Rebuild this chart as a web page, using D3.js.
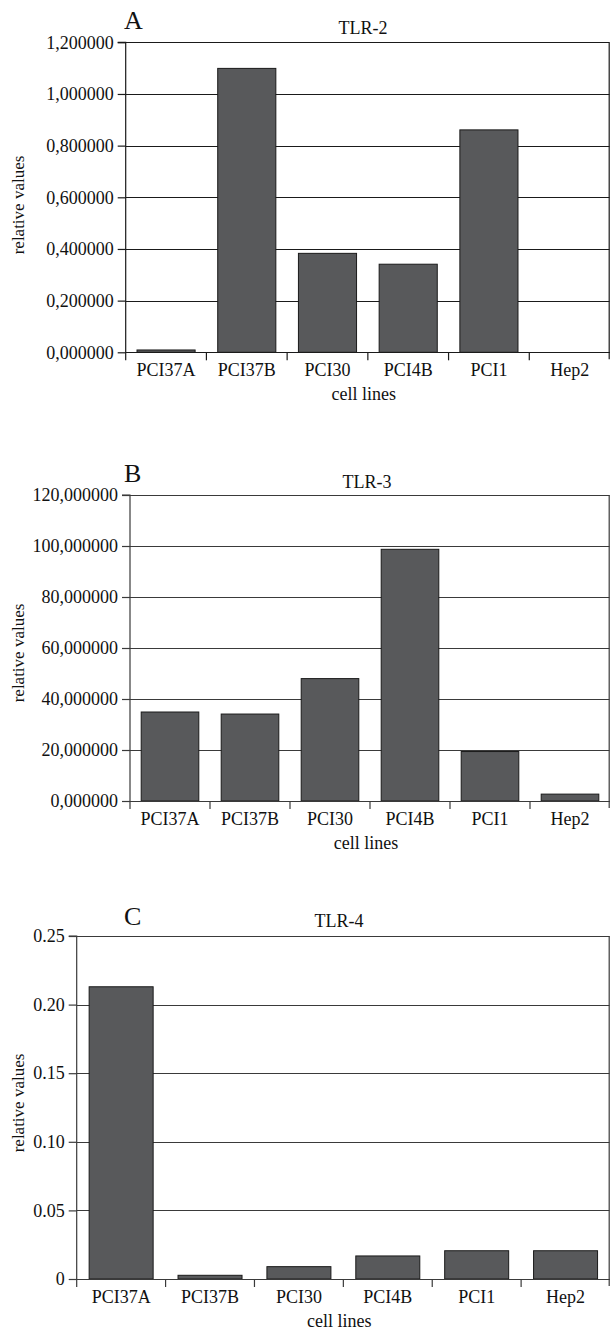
<!DOCTYPE html>
<html>
<head>
<meta charset="utf-8">
<script src="https://cdn.jsdelivr.net/npm/d3@7/dist/d3.min.js"></script>
<style>
  html, body { margin: 0; padding: 0; background: #fff; }
  svg text { font-family: "Liberation Serif", "Times New Roman", serif; fill: #111; }
</style>
</head>
<body>
<svg id="chart" width="610" height="1331"></svg>
<script>
// ---- data ----
const categories = ["PCI37A", "PCI37B", "PCI30", "PCI4B", "PCI1", "Hep2"];
const tlr2Values = [0.009, 1.099, 0.383, 0.341, 0.861, 0];
const tlr3Values = [34.9, 34.1, 48.0, 98.7, 19.4, 2.7];
const tlr4Values = [0.213, 0.0027, 0.009, 0.0168, 0.0206, 0.0206];
const tlr2Ticks = [0, 0.2, 0.4, 0.6, 0.8, 1.0, 1.2];
const tlr3Ticks = [0, 20, 40, 60, 80, 100, 120];
const tlr4Ticks = [0, 0.05, 0.10, 0.15, 0.20, 0.25];
const panelLetters = ["A", "B", "C"];
const panelTitles = ["TLR-2", "TLR-3", "TLR-4"];
const xAxisTitle = "cell lines";
const yAxisTitle = "relative values";

const commaFmt = v => d3.format(".6f")(v).replace(".", ",");
const dotFmt = v => v === 0 ? "0" : d3.format(".2f")(v);
const SERIF = '"Liberation Serif", "Times New Roman", serif';

// ---- layout ----
const panels = [
  { letter: panelLetters[0], title: panelTitles[0], values: tlr2Values, ticks: tlr2Ticks, fmt: commaFmt,
    x0: 125.7, x1: 610, yTop: 42.3, yBot: 352.3, line: "#1a1a1a", titleX: 363, titleY: 34, letterY: 29, ylabY: 205 },
  { letter: panelLetters[1], title: panelTitles[1], values: tlr3Values, ticks: tlr3Ticks, fmt: commaFmt,
    x0: 130, x1: 610, yTop: 495, yBot: 801, line: "#3a3a3a", titleX: 367, titleY: 488, letterY: 482, ylabY: 653 },
  { letter: panelLetters[2], title: panelTitles[2], values: tlr4Values, ticks: tlr4Ticks, fmt: dotFmt,
    x0: 76.7, x1: 610, yTop: 936, yBot: 1279, line: "#3a3a3a", titleX: 339, titleY: 927, letterY: 925, ylabY: 1103 }
];

const svg = d3.select("#chart");

panels.forEach(p => {
  const g = svg.append("g").attr("font-family", SERIF);
  const x = d3.scaleBand().domain(categories).range([p.x0, p.x1])
    .paddingInner(0.28).paddingOuter(0.14);
  const y = d3.scaleLinear().domain([0, d3.max(p.ticks)]).range([p.yBot, p.yTop]);

  // gridlines
  g.append("g").selectAll("line").data(p.ticks).join("line")
    .attr("x1", p.x0).attr("x2", p.x1 - 0.5)
    .attr("y1", d => Math.round(y(d)) + 0.5).attr("y2", d => Math.round(y(d)) + 0.5)
    .attr("stroke", p.line).attr("stroke-width", 1.2);

  // right border
  g.append("line")
    .attr("x1", p.x1 - 0.8).attr("x2", p.x1 - 0.8)
    .attr("y1", y(d3.max(p.ticks))).attr("y2", p.yBot + 7)
    .attr("stroke", p.line).attr("stroke-width", 1.2);

  // bars
  g.append("g").selectAll("rect").data(p.values).join("rect")
    .attr("x", (d, i) => x(categories[i]))
    .attr("width", x.bandwidth())
    .attr("y", d => y(d))
    .attr("height", d => Math.max(0, y(0) - y(d)))
    .attr("fill", "#58595b")
    .attr("stroke", "#1a1a1a")
    .attr("stroke-width", 1);

  // y axis
  const yAxis = d3.axisLeft(y).tickValues(p.ticks).tickFormat(p.fmt).tickSize(8).tickPadding(4);
  const ya = g.append("g").attr("transform", `translate(${p.x0},0)`).call(yAxis)
    .attr("font-family", SERIF).attr("font-size", 18);
  ya.select(".domain").attr("stroke", p.line).attr("stroke-width", 1.2)
    .attr("d", `M-8,${y(d3.max(p.ticks))}H0V${p.yBot + 8}`);
  ya.selectAll(".tick line").attr("stroke", p.line).attr("stroke-width", 1.2);
  ya.selectAll(".tick text").attr("font-size", 18).attr("fill", "#111").attr("font-family", SERIF);

  // x axis: labels
  const xAxis = d3.axisBottom(x).tickSize(0).tickPadding(0);
  const xa = g.append("g").attr("transform", `translate(0,${p.yBot})`).call(xAxis)
    .attr("font-family", SERIF).attr("font-size", 18);
  xa.select(".domain").remove();
  xa.selectAll(".tick text").attr("font-size", 18).attr("fill", "#111").attr("dy", null).attr("y", 0)
    .attr("transform", "translate(0,24)").attr("font-family", SERIF);

  // x axis: baseline and boundary ticks
  g.append("line").attr("x1", p.x0).attr("x2", p.x1)
    .attr("y1", Math.round(y(0)) + 0.5).attr("y2", Math.round(y(0)) + 0.5)
    .attr("stroke", p.line).attr("stroke-width", 1.2);
  const bounds = d3.range(categories.length + 1).map(i => p.x0 + i * x.step());
  g.append("g").selectAll("line").data(bounds.slice(1, -1)).join("line")
    .attr("x1", d => d).attr("x2", d => d)
    .attr("y1", p.yBot).attr("y2", p.yBot + 8)
    .attr("stroke", p.line).attr("stroke-width", 1.2);

  // x title
  g.append("text").attr("x", (p.x0 + p.x1) / 2 - 4).attr("y", p.yBot + 48)
    .attr("text-anchor", "middle").attr("font-size", 18).text(xAxisTitle);

  // y title
  g.append("text").attr("transform", `translate(24,${p.ylabY}) rotate(-90)`)
    .attr("text-anchor", "middle").attr("font-size", 17).text(yAxisTitle);

  // panel title
  g.append("text").attr("x", p.titleX).attr("y", p.titleY)
    .attr("text-anchor", "middle").attr("font-size", 18).text(p.title);

  // panel letter
  g.append("text").attr("x", 124).attr("y", p.letterY)
    .attr("font-size", 26).text(p.letter);
});
</script>
</body>
</html>
